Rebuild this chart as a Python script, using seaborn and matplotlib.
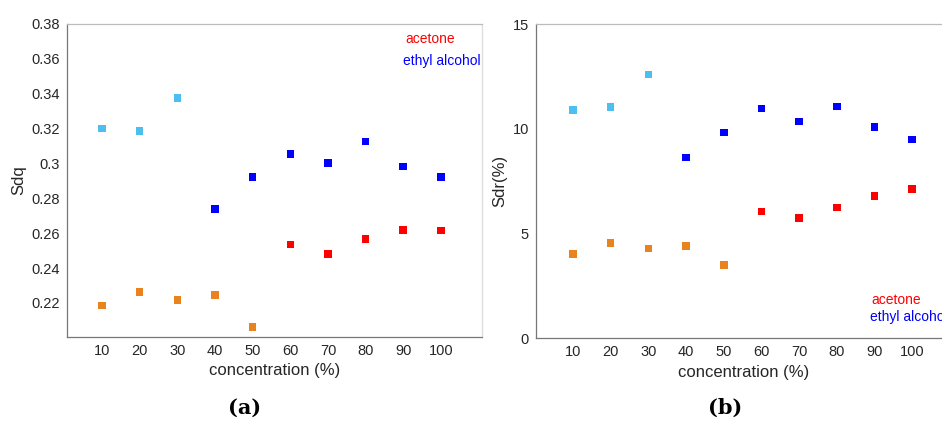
import matplotlib
matplotlib.use("Agg")
import matplotlib.pyplot as plt
import seaborn as sns
import pandas as pd

# ---- data ----
conc_low = [10, 20, 30]
conc_mid = [10, 20, 30, 40, 50]
conc_ea = [40, 50, 60, 70, 80, 90, 100]
conc_ac = [60, 70, 80, 90, 100]

sdq_ea_low = [0.3200, 0.3185, 0.3376]
sdq_ea = [0.2738, 0.2923, 0.3053, 0.3002, 0.3126, 0.2982, 0.2923]
sdq_ac_low = [0.2186, 0.2264, 0.2218, 0.2247, 0.2064]
sdq_ac = [0.2535, 0.2482, 0.2568, 0.2618, 0.2616]

sdr_ea_low = [10.88, 11.04, 12.58]
sdr_ea = [8.63, 9.81, 10.96, 10.34, 11.05, 10.08, 9.49]
sdr_ac_low = [4.01, 4.55, 4.27, 4.40, 3.50]
sdr_ac = [6.04, 5.72, 6.24, 6.77, 7.12]

x_ticks = [10, 20, 30, 40, 50, 60, 70, 80, 90, 100]
sdq_ticks = [0.22, 0.24, 0.26, 0.28, 0.3, 0.32, 0.34, 0.36, 0.38]
sdq_ticklabels = ["0.22", "0.24", "0.26", "0.28", "0.3", "0.32", "0.34", "0.36", "0.38"]
sdr_ticks = [0, 5, 10, 15]
legend_labels = ["acetone", "ethyl alcohol"]

palette = {"ea_low": "#4DBEEE", "ea": "#0000FF", "ac_low": "#E9831F", "ac": "#FF0000"}


def build(ea_low, ea, ac_low, ac):
    rows = []
    for g, xs, ys in [("ea_low", conc_low, ea_low), ("ea", conc_ea, ea),
                      ("ac_low", conc_mid, ac_low), ("ac", conc_ac, ac)]:
        for x, y in zip(xs, ys):
            rows.append({"conc": x, "val": y, "grp": g})
    return pd.DataFrame(rows)


df_a = build(sdq_ea_low, sdq_ea, sdq_ac_low, sdq_ac)
df_b = build(sdr_ea_low, sdr_ea, sdr_ac_low, sdr_ac)

sns.set_style("white")
plt.rcParams["font.family"] = ["Liberation Sans", "DejaVu Sans"]

W, H = 942, 422
fig = plt.figure(figsize=(W / 100, H / 100), dpi=100)


def px_axes(l, t, r, b):
    return fig.add_axes([l / W, 1 - b / H, (r - l) / W, (b - t) / H])


ax1 = px_axes(67, 24, 482, 337)
ax2 = px_axes(536, 24, 951, 338)

tc = "#262626"
for ax, df, ylab in [(ax1, df_a, "Sdq"), (ax2, df_b, "Sdr(%)")]:
    sns.scatterplot(data=df, x="conc", y="val", hue="grp", palette=palette,
                    marker="s", s=30, linewidth=0, legend=False, ax=ax)
    ax.set_xticks(x_ticks)
    ax.set_xlabel("concentration (%)", fontsize=12, color=tc, labelpad=4)
    ax.set_ylabel(ylab, fontsize=12, color=tc, labelpad=4)
    ax.tick_params(axis="both", direction="in", length=4, width=0.8,
                   colors="#666666", labelcolor=tc, labelsize=10.5, pad=5)
    for s in ["left", "bottom"]:
        ax.spines[s].set_color("#777777")
        ax.spines[s].set_linewidth(0.9)
    ax.spines["top"].set_color("#bbbbbb")
    ax.spines["right"].set_color("#dddddd")
    ax.spines["top"].set_linewidth(0.9)
    ax.spines["right"].set_linewidth(0.9)

ax1.set_xlim(0.7, 110.9)
ax1.set_ylim(0.2005, 0.38)
ax1.set_yticks(sdq_ticks)
ax1.set_yticklabels(sdq_ticklabels)

ax2.set_xlim(0.2, 110.3)
ax2.set_ylim(0, 15)
ax2.set_yticks(sdr_ticks)


def ftext(x, y, s, **kw):
    fig.text(x / W, 1 - y / H, s, **kw)


ftext(405, 39, legend_labels[0], color="#FF0000", fontsize=10, va="center", ha="left")
ftext(403, 61, legend_labels[1], color="#0000FF", fontsize=10, va="center", ha="left")
ftext(871, 300, legend_labels[0], color="#FF0000", fontsize=10, va="center", ha="left")
ftext(870, 317, legend_labels[1], color="#0000FF", fontsize=10, va="center", ha="left")

ftext(245, 408, "(a)", fontsize=15, fontweight="bold", ha="center", va="center",
      family=["DejaVu Serif"], color="black")
ftext(725, 408, "(b)", fontsize=15, fontweight="bold", ha="center", va="center",
      family=["DejaVu Serif"], color="black")

fig.savefig("out.png", dpi=100)
